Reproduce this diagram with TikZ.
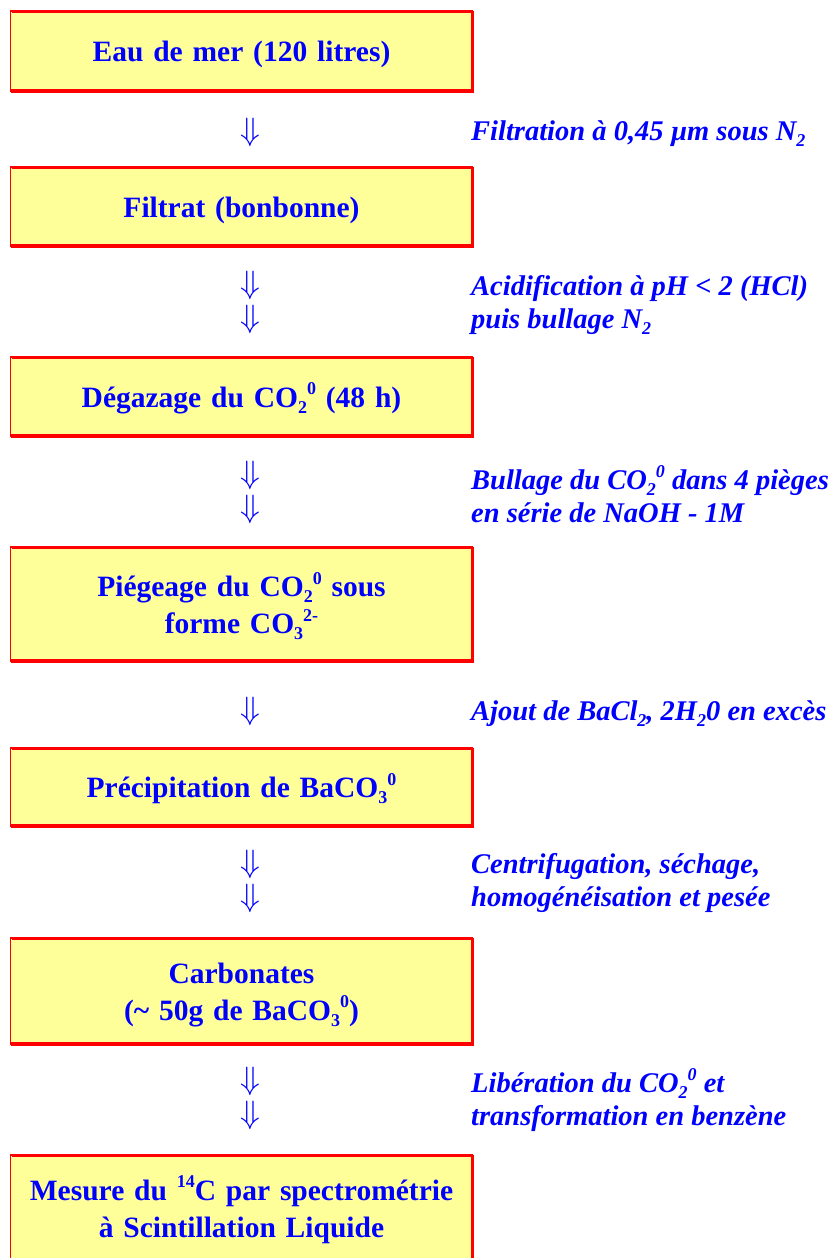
\documentclass[tikz,border=0pt]{standalone}
\usepackage{fontspec}
\setmainfont{Liberation Serif}
\definecolor{fondjaune}{RGB}{255,255,153}
\definecolor{bleutexte}{RGB}{0,0,255}
\definecolor{rougecadre}{RGB}{255,0,0}
\newcommand{\bas}[1]{\raisebox{-0.2em}{\fontsize{18}{18}\selectfont #1}}
\newcommand{\haut}[1]{\raisebox{0.42em}{\fontsize{18}{18}\selectfont #1}}
\newcommand{\versbas}{\scalebox{1.3}{$\Downarrow$}}
\begin{document}
\begin{tikzpicture}[x=1pt, y=-1pt,
    etape/.style={draw=rougecadre, line width=0.9pt, double=fondjaune, double distance=1pt,
      fill=fondjaune, minimum width=461pt, minimum height=#1, text width=455pt, align=center,
      inner sep=0pt, text=bleutexte, font=\bfseries\fontsize{29.5}{37}\selectfont,
      execute at begin node={\rule{0pt}{28pt}}},
    fleche/.style={inner sep=0pt, text=bleutexte, font=\fontsize{24}{30}\selectfont},
    legende/.style={anchor=west, inner sep=0pt, align=left, text=bleutexte,
      font=\bfseries\itshape\fontsize{28.5}{33}\selectfont}]
  \useasboundingbox (0,0) rectangle (830,1258);
  % etapes du protocole
  \node [etape=79pt] (eau) at (241.5,51) {Eau de mer (120 litres)};
  \node [etape=78pt] (filtrat) at (241.5,206.5) {Filtrat (bonbonne)};
  \node [etape=78pt] (degazage) at (241.5,396.5) {Dégazage du CO\bas{2}\haut{0} (48 h)};
  \node [etape=113pt] (piegeage) at (241.5,604) {Piégeage du CO\bas{2}\haut{0} sous\\ forme CO\bas{3}\haut{2-}};
  \node [etape=77pt] (precipitation) at (241.5,787) {Précipitation de BaCO\bas{3}\haut{0}};
  \node [etape=105pt] (carbonates) at (241.5,991) {Carbonates\\ (\textasciitilde{} 50g de BaCO\bas{3}\haut{0})};
  \node [etape=105pt] (mesure) at (241.5,1208) {Mesure du \haut{14}C par spectrométrie\\ à Scintillation Liquide};
  % bord epais en haut, a droite et en bas
  \foreach \b in {eau,filtrat,degazage,piegeage,precipitation,carbonates,mesure}{
    \draw [rougecadre, line width=2.2pt] (\b.north west) -- (\b.north east);
    \draw [rougecadre, line width=3.4pt] (\b.north east) -- (\b.south east) -- (\b.south west);
  }
  % fleches
  \node [fleche] (f1) at (250,132) {\versbas};
  \node [fleche] (f2a) at (250,285) {\versbas};
  \node [fleche] (f2b) at (250,319) {\versbas};
  \node [fleche] (f3a) at (250,475) {\versbas};
  \node [fleche] (f3b) at (250,509) {\versbas};
  \node [fleche] (f4) at (250,711) {\versbas};
  \node [fleche] (f5a) at (250,864) {\versbas};
  \node [fleche] (f5b) at (250,898) {\versbas};
  \node [fleche] (f6a) at (250,1081) {\versbas};
  \node [fleche] (f6b) at (250,1115) {\versbas};
  % operations
  \node [legende] (l1) at (471,134) {Filtration à 0,45 µm sous N\bas{2}};
  \node [legende] (l2) at (471,305) {Acidification à pH < 2 (HCl)\\ puis bullage N\bas{2}};
  \node [legende] (l3) at (471,494) {Bullage du CO\bas{2}\haut{0} dans 4 pièges\\ en série de NaOH - 1M};
  \node [legende] (l4) at (471,714) {Ajout de BaCl\bas{2}, 2H\bas{2}0 en excès};
  \node [legende] (l5) at (471,883) {Centrifugation, séchage,\\ homogénéisation et pesée};
  \node [legende] (l6) at (471,1100) {Libération du CO\bas{2}\haut{0} et\\ transformation en benzène};
\end{tikzpicture}
\end{document}
